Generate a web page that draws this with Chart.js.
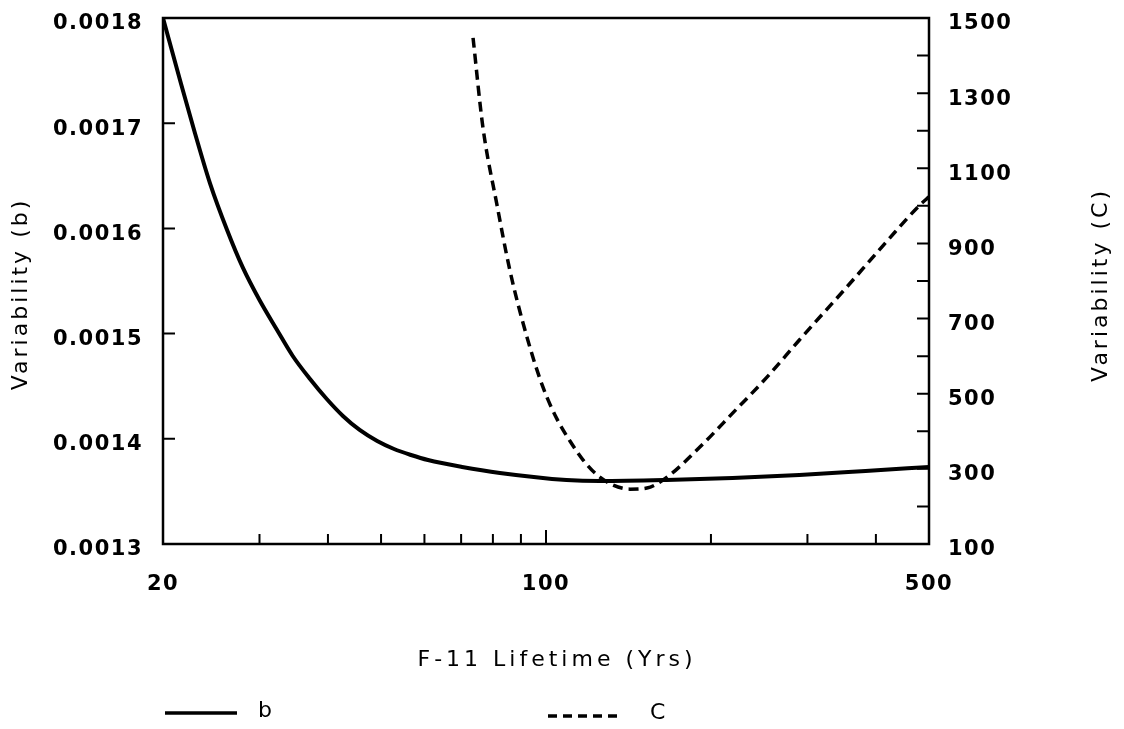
<!DOCTYPE html>
<html><head><meta charset="utf-8">
<script src="https://cdn.jsdelivr.net/npm/chart.js@4.4.1/dist/chart.umd.min.js"></script>
<style>html,body{margin:0;padding:0;background:#fff;}#wrap{width:1124px;height:729px;position:relative;}</style>
</head><body><div id="wrap"><canvas id="c"></canvas></div>
<script>
// ---- data ----
const lifetimeB = [20,21.48,22.87,24.36,26.18,27.99,30,32.3,34.5,37.1,39.8,42.6,45.7,49.2,52.8,56.7,60.9,70.3,82.4,109,125.4,166,219,290,383,500];
const variabilityB = [0.0018,0.0017411,0.0016907,0.0016431,0.0015985,0.0015624,0.0015319,0.0015034,0.0014787,0.0014568,0.0014378,0.0014217,0.0014084,0.0013979,0.0013903,0.0013846,0.0013798,0.0013732,0.0013675,0.0013608,0.0013598,0.0013608,0.0013627,0.0013656,0.0013694,0.0013732];
const lifetimeC = [73.6,76.7,81.4,85.9,92.3,98.7,104.7,110.6,116.8,123.9,132.5,142.3,152.8,166.3,190.9,219.3,253.1,290,354,419,481,500];
const variabilityC = [1447,1210,1002,829,651,518,433,374,324,284,257,246,249,278,358,449,544,643,784,906,1002,1024];
const seriesNames = ['b','C'];
const xTickValues = [20,30,40,50,60,70,80,90,100,200,300,400,500];
const xTickLabels = [20,100,500];
const leftTickValues = [0.0013,0.0014,0.0015,0.0016,0.0017,0.0018];
const leftTickLabels = ['0.0013','0.0014','0.0015','0.0016','0.0017','0.0018'];
const rightTickValues = [100,200,300,400,500,600,700,800,900,1000,1100,1200,1300,1400,1500];
const rightTickLabels = [100,300,500,700,900,1100,1300,1500];
const xTitle = 'F-11 Lifetime (Yrs)';
const leftTitle = 'Variability (b)';
const rightTitle = 'Variability (C)';

const FAMILY = "'DejaVu Sans', Verdana, sans-serif";
const tickFont = {family: FAMILY, size: 21, weight: 'bold'};

const decorPlugin = {
  id: 'decor',
  beforeLayout(chart){ chart.ctx.letterSpacing = '1.5px'; },
  beforeDraw(chart){ chart.ctx.letterSpacing = '1.5px'; },
  afterDraw(chart){
    const ctx = chart.ctx, a = chart.chartArea;
    const xs = chart.scales.x, yl = chart.scales.yB, yr = chart.scales.yC;
    ctx.save();
    ctx.letterSpacing = '0px';
    ctx.strokeStyle = '#000';
    ctx.lineWidth = 2.5;
    ctx.strokeRect(a.left, a.top, a.right - a.left, a.bottom - a.top);
    ctx.lineWidth = 2;
    ctx.beginPath();
    xTickValues.forEach(v => {
      if (v === 20 || v === 500) return;
      const p = xs.getPixelForValue(v);
      const len = v === 100 ? 14 : 10;
      ctx.moveTo(p, a.bottom); ctx.lineTo(p, a.bottom - len);
    });
    leftTickValues.forEach(v => {
      const p = yl.getPixelForValue(v);
      ctx.moveTo(a.left, p); ctx.lineTo(a.left + 12, p);
    });
    rightTickValues.forEach(v => {
      const p = yr.getPixelForValue(v);
      ctx.moveTo(a.right, p); ctx.lineTo(a.right - 12, p);
    });
    ctx.stroke();

    // titles
    ctx.fillStyle = '#000';
    ctx.font = '22px ' + FAMILY;
    ctx.textAlign = 'center';
    ctx.textBaseline = 'middle';
    ctx.letterSpacing = '4px';
    ctx.fillText(xTitle, 557, 660);
    ctx.letterSpacing = '3px';
    ctx.save(); ctx.translate(21, 294); ctx.rotate(-Math.PI/2); ctx.fillText(leftTitle, 0, 0); ctx.restore();
    ctx.save(); ctx.translate(1101, 285); ctx.rotate(-Math.PI/2); ctx.fillText(rightTitle, 0, 0); ctx.restore();

    // legend
    ctx.letterSpacing = '0px';
    ctx.textAlign = 'left';
    ctx.lineWidth = 3.5;
    ctx.beginPath(); ctx.moveTo(165, 713); ctx.lineTo(237, 713); ctx.stroke();
    ctx.fillText(seriesNames[0], 258, 711);
    ctx.setLineDash([9,6]);
    ctx.beginPath(); ctx.moveTo(548, 716); ctx.lineTo(623, 716); ctx.stroke();
    ctx.setLineDash([]);
    ctx.fillText(seriesNames[1], 650, 713);
    ctx.restore();
  }
};

function noPad(s){ s.paddingTop = 0; s.paddingBottom = 0; }

new Chart(document.getElementById('c'), {
  type: 'line',
  data: {
    datasets: [
      { label: seriesNames[0], data: lifetimeB.map((x,i)=>({x, y: variabilityB[i]})), yAxisID: 'yB',
        borderColor: '#000', borderWidth: 4, pointRadius: 0, cubicInterpolationMode: 'monotone', fill: false },
      { label: seriesNames[1], data: lifetimeC.map((x,i)=>({x, y: variabilityC[i]})), yAxisID: 'yC',
        borderColor: '#000', borderWidth: 3.5, borderDash: [10,6], pointRadius: 0, cubicInterpolationMode: 'monotone', fill: false }
    ]
  },
  options: {
    responsive: true, maintainAspectRatio: false, animation: false,
    layout: { padding: { top: 18, left: 0, right: 0, bottom: 0 } },
    plugins: { legend: { display: false }, tooltip: { enabled: false } },
    scales: {
      x: { type: 'logarithmic', min: 20, max: 500,
        afterBuildTicks: s => { s.ticks = xTickValues.map(v => ({value: v})); },
        afterFit: s => { s.height = 185; s.paddingLeft = 0; s.paddingRight = 0; },
        grid: { display: false, drawTicks: false }, border: { display: false },
        ticks: { autoSkip: false, maxRotation: 0, minRotation: 0, padding: 28, color: '#000', font: tickFont,
          callback: v => xTickLabels.includes(v) ? String(v) : '' } },
      yB: { position: 'left', min: 0.0013, max: 0.0018,
        afterBuildTicks: s => { s.ticks = leftTickValues.map(v => ({value: v})); },
        afterFit: s => { s.width = 163; noPad(s); },
        grid: { display: false, drawTicks: false }, border: { display: false },
        ticks: { padding: 20, labelOffset: 6, color: '#000', font: tickFont,
          callback: (v, i) => leftTickLabels[i] } },
      yC: { position: 'right', min: 100, max: 1500,
        afterBuildTicks: s => { s.ticks = rightTickValues.map(v => ({value: v})); },
        afterFit: s => { s.width = 195; noPad(s); },
        grid: { display: false, drawTicks: false }, border: { display: false },
        ticks: { autoSkip: false, padding: 19, labelOffset: 6, color: '#000', font: tickFont,
          callback: v => rightTickLabels.includes(v) ? String(v) : '' } }
    }
  },
  plugins: [decorPlugin]
});
</script></body></html>
